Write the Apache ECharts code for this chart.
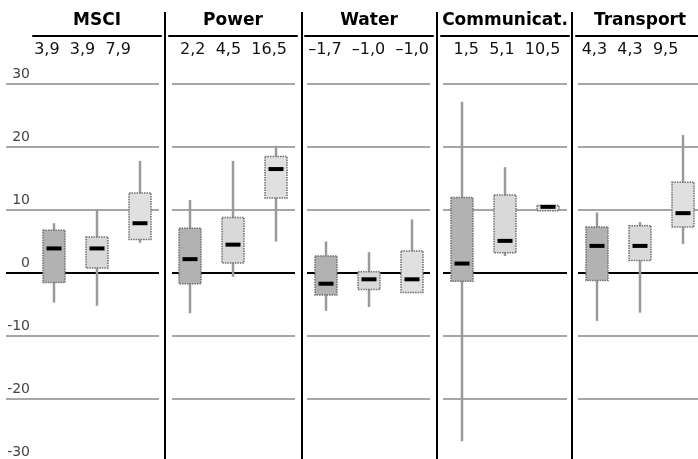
<!DOCTYPE html>
<html><head><meta charset="utf-8">
<script src="https://cdn.jsdelivr.net/npm/echarts@6/dist/echarts.min.js"></script>
<style>html,body{margin:0;padding:0;background:#fff}#c{width:698px;height:459px}</style>
</head><body><div id="c"></div>
<script>
// ---- data ----
const panels = ['MSCI', 'Power', 'Water', 'Communicat.', 'Transport'];
const boxCategories = ['1', '2', '3'];
// [min, Q1, median, Q3, max]
const msciBoxes      = [[-4.7, -1.5, 3.9, 6.8, 7.9], [-5.2, 0.8, 3.9, 5.7, 10.0], [4.8, 5.3, 7.9, 12.7, 17.8]];
const powerBoxes     = [[-6.4, -1.7, 2.2, 7.1, 11.6], [-0.6, 1.6, 4.5, 8.8, 17.8], [5.0, 11.9, 16.5, 18.5, 20.2]];
const waterBoxes     = [[-6.0, -3.5, -1.7, 2.7, 5.0], [-5.4, -2.6, -1.0, 0.2, 3.3], [-3.1, -3.1, -1.0, 3.5, 8.5]];
const commBoxes      = [[-26.7, -1.3, 1.5, 12.0, 27.2], [2.7, 3.2, 5.1, 12.4, 16.8], [9.9, 9.9, 10.5, 10.7, 10.7]];
const transportBoxes = [[-7.6, -1.2, 4.3, 7.3, 9.6], [-6.3, 2.0, 4.3, 7.5, 8.1], [4.6, 7.3, 9.5, 14.4, 21.9]];
const msciMedians      = [3.9, 3.9, 7.9];
const powerMedians     = [2.2, 4.5, 16.5];
const waterMedians     = [-1.7, -1.0, -1.0];
const commMedians      = [1.5, 5.1, 10.5];
const transportMedians = [4.3, 4.3, 9.5];
const yMin = -30, yMax = 30, yStep = 10;

const allBoxes = [msciBoxes, powerBoxes, waterBoxes, commBoxes, transportBoxes];
const allMedians = [msciMedians, powerMedians, waterMedians, commMedians, transportMedians];

// ---- layout / style ----
const W = 698, H = 459;
const plotTop = 84, plotBottom = -3;
const boxLeft = [33, 169, 305, 441, 576], boxW = 128;
const lineLeft = [6, 172, 307, 443, 578], lineRight = [159, 295, 430, 567, 698];
const headerShift = [0, 0, 0, 2, -8];
const dividerX = [165, 302, 437, 572];
const boxFills = ['#b2b2b2', '#d9d9d9', '#e0e0e0'];
const fmt = v => v.toFixed(1).replace('.', ',').replace('-', '\u2013');

const grid = [], xAxis = [], yAxis = [], series = [];
panels.forEach((p, i) => {
  grid.push({left: lineLeft[i], right: W - lineRight[i], top: plotTop, bottom: plotBottom, outerBoundsMode: 'none', containLabel: false});
});
panels.forEach((p, i) => {
  grid.push({left: boxLeft[i], width: boxW, top: plotTop, bottom: plotBottom, outerBoundsMode: 'none', containLabel: false});
});
const splitColors = [];
for (let v = yMin; v <= yMax; v += yStep) splitColors.push(v === 0 ? '#000' : '#a6a6a6');

panels.forEach((p, i) => {
  const sh = headerShift[i];
  xAxis.push({
    gridIndex: i, type: 'value', min: 0, max: 1, position: 'top',
    axisLine: {show: false}, axisTick: {show: false}, axisLabel: {show: false}, splitLine: {show: false},
    name: allMedians[i].map(fmt).join('  '), nameLocation: 'middle', nameGap: 34,
    nameTextStyle: {fontFamily: 'DejaVu Sans', fontSize: 16, color: '#111', verticalAlign: 'middle',
      padding: sh < 0 ? [0, -2 * sh, 0, 0] : [0, 0, 0, 2 * sh]}
  });
  yAxis.push({
    gridIndex: i, type: 'value', min: yMin, max: yMax, interval: yStep,
    axisLine: {show: false}, axisTick: {show: false},
    splitLine: {show: true, lineStyle: {color: splitColors, width: 2}},
    axisLabel: {show: i === 0, align: 'right', margin: -24, verticalAlign: 'bottom', padding: [0, 0, 3, 0],
      fontFamily: 'DejaVu Sans', fontSize: 14, color: '#444', formatter: v => String(v)}
  });
});

function renderBox(params, api) {
  const j = api.value(0);
  const pMin = api.coord([j, api.value(1)]);
  const pQ1 = api.coord([j, api.value(2)]);
  const pMed = api.coord([j, api.value(3)]);
  const pQ3 = api.coord([j, api.value(4)]);
  const pMax = api.coord([j, api.value(5)]);
  const cx = Math.round(pMed[0]);
  const bw = 22, mw = 15, mh = 4;
  return {
    type: 'group',
    children: [
      {type: 'line', shape: {x1: cx, y1: pMax[1], x2: cx, y2: pMin[1]},
        style: {stroke: '#9a9a9a', lineWidth: 2.5}},
      {type: 'rect', shape: {x: cx - bw / 2, y: pQ3[1], width: bw, height: Math.max(pQ1[1] - pQ3[1], 3)},
        style: {fill: boxFills[j], stroke: '#707070', lineWidth: 1.5, lineDash: [1.5, 1]}},
      {type: 'rect', shape: {x: cx - mw / 2, y: pMed[1] - mh / 2, width: mw, height: mh},
        style: {fill: '#000'}}
    ]
  };
}

panels.forEach((p, i) => {
  xAxis.push({
    gridIndex: 5 + i, type: 'category', data: boxCategories, position: 'top', offset: 48,
    axisLine: {show: true, onZero: false, lineStyle: {color: '#000', width: 2}},
    axisTick: {show: false}, axisLabel: {show: false}, splitLine: {show: false},
    name: p, nameLocation: 'middle', nameGap: 15,
    nameTextStyle: {fontFamily: 'DejaVu Sans', fontWeight: 'bold', fontSize: 17, color: '#000', verticalAlign: 'middle'}
  });
  yAxis.push({
    gridIndex: 5 + i, type: 'value', min: yMin, max: yMax, interval: yStep, show: false
  });
  series.push({
    type: 'custom', xAxisIndex: 5 + i, yAxisIndex: 5 + i, silent: true, animation: false,
    renderItem: renderBox, clip: false,
    encode: {x: 0, y: [1, 2, 3, 4, 5]},
    data: allBoxes[i].map((b, j) => [j].concat(b))
  });
});

const graphic = dividerX.map(x => ({
  type: 'line', shape: {x1: x, y1: 12, x2: x, y2: H}, style: {stroke: '#000', lineWidth: 2}, silent: true
}));

const chart = echarts.init(document.getElementById('c'), null, {renderer: 'canvas'});
chart.setOption({animation: false, backgroundColor: '#fff', grid, xAxis, yAxis, series, graphic});
</script></body></html>
